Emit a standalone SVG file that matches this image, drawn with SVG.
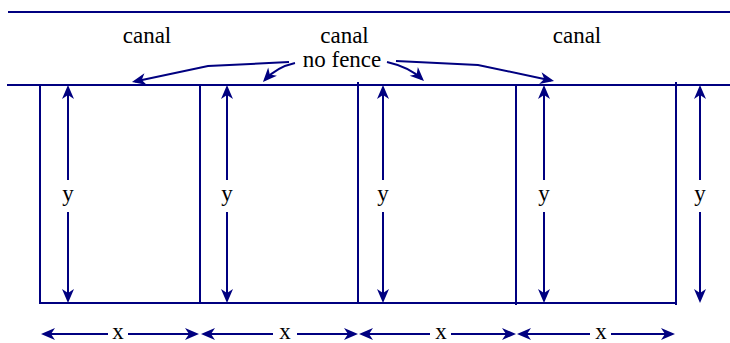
<svg xmlns="http://www.w3.org/2000/svg" width="730" height="343" viewBox="0 0 730 343">
<style>
.ln{stroke:#000080;stroke-width:2;fill:none}
.t{font-family:"Liberation Serif",Tinos,"DejaVu Serif","Noto Serif","Times New Roman",Times,serif;font-size:23px;fill:#000;text-anchor:middle}
</style>
<defs>
<marker id="ah" viewBox="-13 -7 17 14" refX="0" refY="0" markerWidth="17" markerHeight="14" markerUnits="userSpaceOnUse" orient="auto-start-reverse">
<path d="M3,0 L-11,-6 L-7,0 L-11,6 Z" fill="#000080"/>
</marker>
</defs>
<rect width="730" height="343" fill="#fff"/>
<g id="canal-edges">
<line class="ln" x1="8" y1="12" x2="730" y2="12"/>
<line class="ln" x1="7" y1="85" x2="730" y2="85"/>
</g>
<g id="plots">
<polyline class="ln" points="40,85 40,303 676,303"/>
<line class="ln" x1="200" y1="85" x2="200" y2="303"/>
<line class="ln" x1="358" y1="82" x2="358" y2="304"/>
<line class="ln" x1="516" y1="85" x2="516" y2="305"/>
<line class="ln" x1="676" y1="82" x2="676" y2="305"/>
</g>
<g id="labels">
<text class="t" x="147" y="43">canal</text>
<text class="t" x="344.5" y="43">canal</text>
<text class="t" x="577" y="43">canal</text>
<text class="t" x="342" y="67">no fence</text>
</g>
<g id="connectors">
<polyline class="ln" points="289,62 208,66 134.9,81.4" marker-end="url(#ah)"/>
<path class="ln" d="M295,63 Q277,67 265,79.7" marker-end="url(#ah)"/>
<path class="ln" d="M387,62 Q409,67 421.8,79" marker-end="url(#ah)"/>
<polyline class="ln" points="396,61 478,65 551.1,80.4" marker-end="url(#ah)"/>
</g>
<g id="y-dims">
<line class="ln" x1="68" y1="88" x2="68" y2="180" marker-start="url(#ah)"/>
<line class="ln" x1="68" y1="212" x2="68" y2="300" marker-end="url(#ah)"/>
<text class="t" x="68" y="201">y</text>
<line class="ln" x1="227" y1="88" x2="227" y2="180" marker-start="url(#ah)"/>
<line class="ln" x1="227" y1="212" x2="227" y2="300" marker-end="url(#ah)"/>
<text class="t" x="227" y="201">y</text>
<line class="ln" x1="383" y1="88" x2="383" y2="180" marker-start="url(#ah)"/>
<line class="ln" x1="383" y1="212" x2="383" y2="300" marker-end="url(#ah)"/>
<text class="t" x="383" y="201">y</text>
<line class="ln" x1="544" y1="88" x2="544" y2="180" marker-start="url(#ah)"/>
<line class="ln" x1="544" y1="212" x2="544" y2="300" marker-end="url(#ah)"/>
<text class="t" x="544" y="201">y</text>
<line class="ln" x1="700" y1="88" x2="700" y2="180" marker-start="url(#ah)"/>
<line class="ln" x1="700" y1="212" x2="700" y2="300" marker-end="url(#ah)"/>
<text class="t" x="700" y="201">y</text>
</g>
<g id="x-dims">
<line class="ln" x1="44" y1="334" x2="108" y2="334" marker-start="url(#ah)"/>
<line class="ln" x1="128" y1="334" x2="196" y2="334" marker-end="url(#ah)"/>
<text class="t" x="118" y="339">x</text>
<line class="ln" x1="204" y1="334" x2="273" y2="334" marker-start="url(#ah)"/>
<line class="ln" x1="297" y1="334" x2="355" y2="334" marker-end="url(#ah)"/>
<text class="t" x="285" y="339">x</text>
<line class="ln" x1="362" y1="334" x2="430" y2="334" marker-start="url(#ah)"/>
<line class="ln" x1="451" y1="334" x2="513" y2="334" marker-end="url(#ah)"/>
<text class="t" x="441" y="339">x</text>
<line class="ln" x1="520" y1="334" x2="590" y2="334" marker-start="url(#ah)"/>
<line class="ln" x1="611" y1="334" x2="672" y2="334" marker-end="url(#ah)"/>
<text class="t" x="601" y="339">x</text>
</g>
</svg>
